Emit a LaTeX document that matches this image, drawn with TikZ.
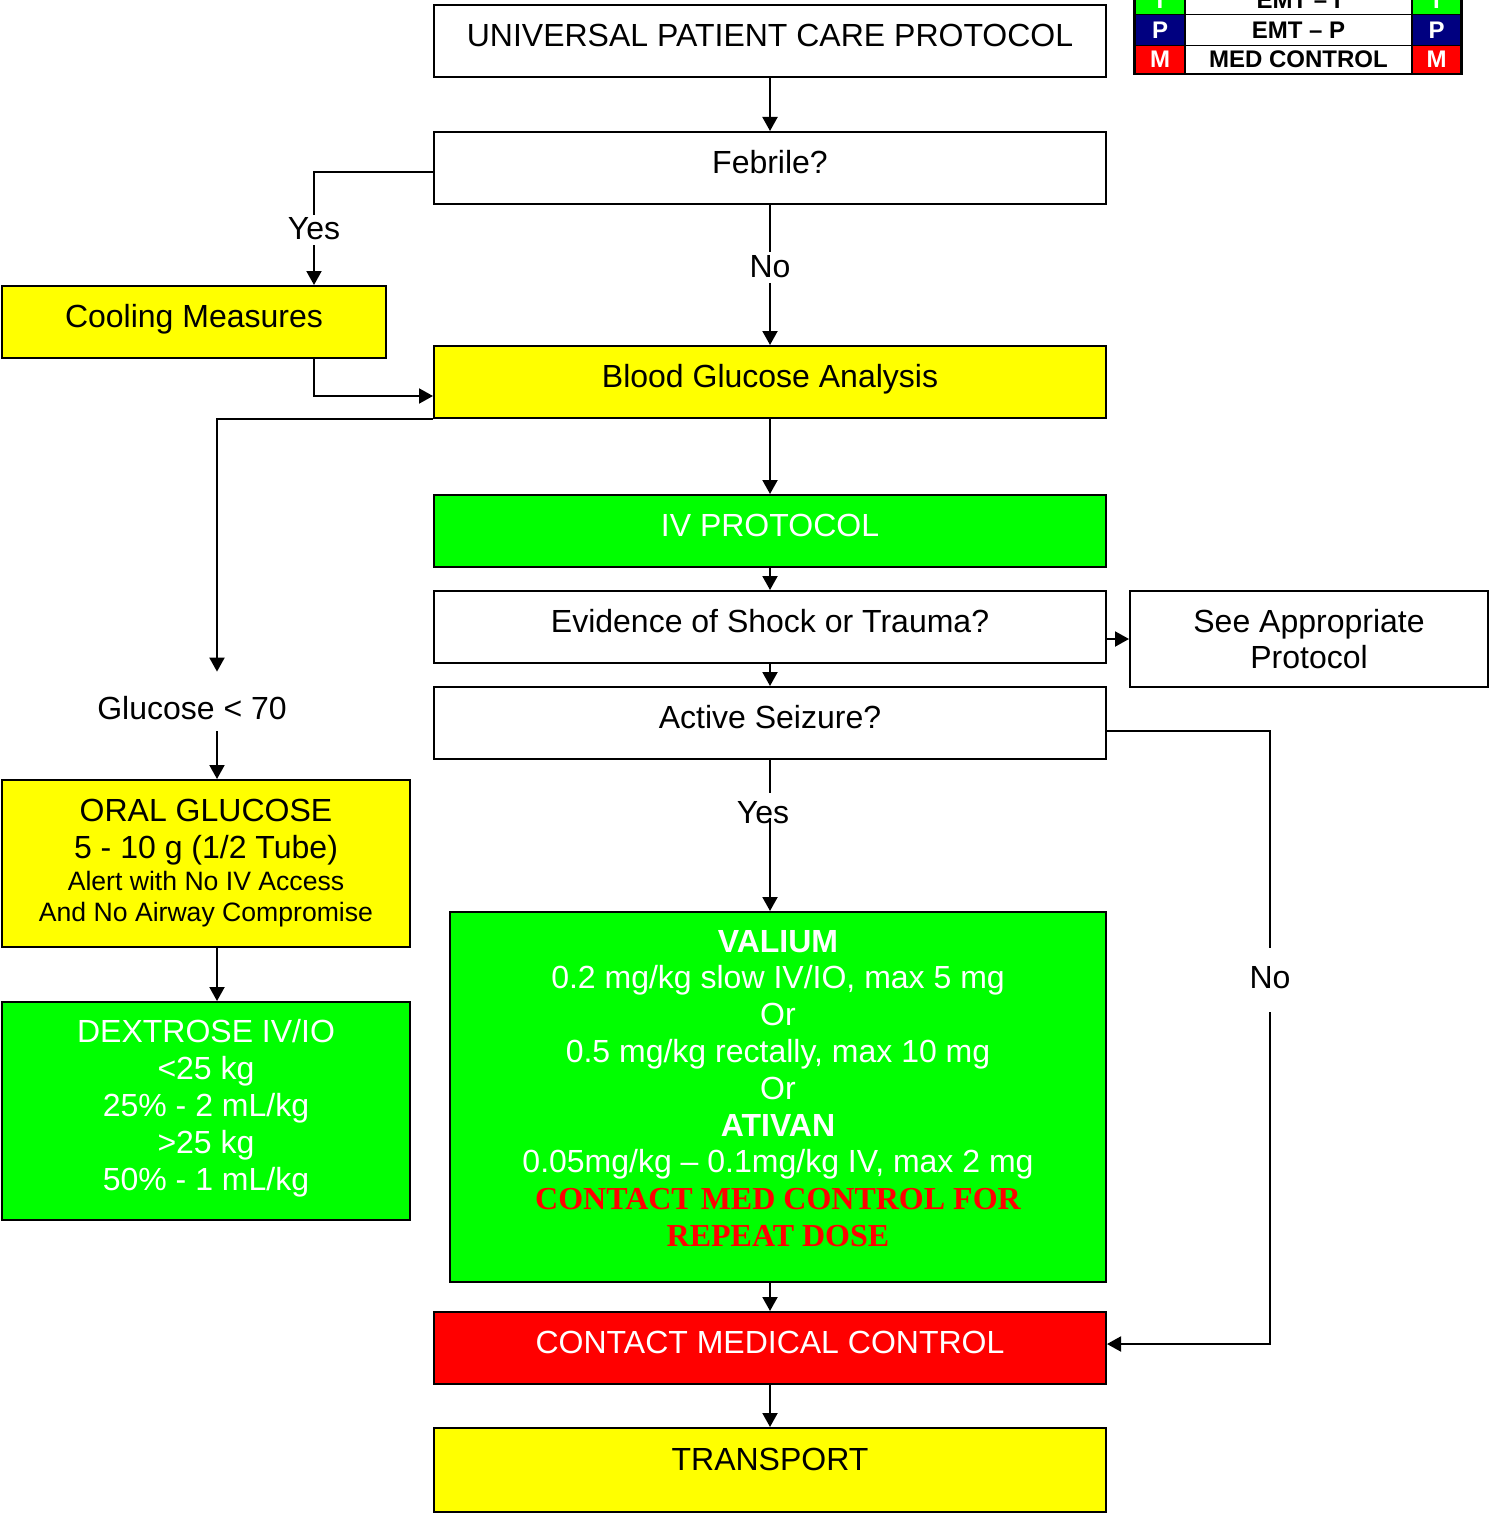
\documentclass[tikz,border=0pt]{standalone}
\usepackage{fontspec}
\setmainfont{Liberation Sans}
\newfontfamily\timesfont{Liberation Serif}
\usetikzlibrary{arrows.meta,calc}

\definecolor{bgreen}{HTML}{00FF00}
\definecolor{byellow}{HTML}{FFFF00}
\definecolor{bred}{HTML}{FF0000}
\definecolor{lgnavy}{HTML}{000080}
\newcommand\redcaps{\timesfont\bfseries\color{bred}}

\begin{document}
\begin{tikzpicture}[x=0.5pt, y=-0.5pt,
  every node/.style={inner sep=0pt},
  box/.style={draw=black, line width=1pt, fill=white,
    minimum width=336pt, minimum height=36pt,
    font=\fontsize{16}{18.5}\selectfont},
  oneline/.style={text height=12pt, text depth=6.5pt},
  multi/.style={align=center},
  conn/.style={line width=1pt},
  arr/.style={conn, -{Triangle[length=7pt,width=7.5pt]}},
  lbl/.style={font=\fontsize{16}{18.5}\selectfont, anchor=base,
    text height=12.5pt, text depth=2.5pt},
  lgc/.style={draw=black, line width=0.75pt,
    font=\bfseries\fontsize{12}{14}\selectfont}
]
\useasboundingbox (0,0) rectangle (1490,1514);
\clip (0,0) rectangle (1490,1514);

% main column
\node[box, oneline] (upc) at (770,41) {UNIVERSAL PATIENT CARE PROTOCOL};
\node[box, oneline] (febrile) at (770,168) {Febrile?};
\node[box, oneline, fill=byellow, minimum width=192pt] (cool) at (194,322) {Cooling Measures};
\node[box, oneline, fill=byellow] (bg) at (770,382) {Blood Glucose Analysis};
\node[box, oneline, fill=bgreen, text=white] (iv) at (770,531) {IV PROTOCOL};
\node[box, oneline] (shock) at (770,627) {Evidence of Shock or Trauma?};
\node[box, multi, minimum width=179pt, minimum height=48pt,
  font=\fontsize{16}{18}\selectfont] (see) at (1309,639) {See Appropriate\\Protocol};
\node[box, oneline] (seizure) at (770,723) {Active Seizure?};

% low glucose branch
\node[box, multi, fill=byellow, minimum width=204pt, minimum height=83.5pt] (oral) at (206,863.5)
  {ORAL GLUCOSE\\5 - 10 g (1/2 Tube)\\[-2.5pt]
   \fontsize{13.3}{15.5}\selectfont Alert with No IV Access\\[-3pt]
   \fontsize{13.3}{15.5}\selectfont And No Airway Compromise};
\node[box, multi, fill=bgreen, text=white, minimum width=204pt, minimum height=109pt] (dex) at (206,1111)
  {DEXTROSE IV/IO\\<25 kg\\25\% - 2 mL/kg\\>25 kg\\50\% - 1 mL/kg\rule[-6.4pt]{0pt}{6.4pt}};

% seizure treatment (extra depth on the last line lifts the block)
\node[box, multi, fill=bgreen, text=white, minimum width=328pt, minimum height=185pt,
  font=\fontsize{16}{18.4}\selectfont] (valium) at (778,1097)
  {\textbf{VALIUM}\\0.2 mg/kg slow IV/IO, max 5 mg\\Or\\0.5 mg/kg rectally, max 10 mg\\Or\\
   \textbf{ATIVAN}\\0.05mg/kg – 0.1mg/kg IV, max 2 mg\\
   \redcaps CONTACT MED CONTROL FOR\\
   \redcaps REPEAT DOSE\rule[-8.8pt]{0pt}{8.8pt}};

\node[box, oneline, fill=bred, text=white] (mc) at (770,1348) {CONTACT MEDICAL CONTROL};
\node[box, fill=byellow, minimum height=42pt, text height=12pt, text depth=12pt] (transport) at (770,1470) {TRANSPORT};

% connector labels
\node[lbl] (yes1) at (314,240) {Yes};
\node[lbl] (no1) at (770,277.5) {No};
\node[lbl, text height=23.75pt, text depth=5.75pt] (glc) at (192,719.5) {Glucose < 70};
\node[lbl, text height=15pt, text depth=0pt] (yes2) at (763,823) {Yes};
\node[lbl, text height=20.25pt, text depth=11.75pt] (no2) at (1270,988.5) {No};

% connectors
\coordinate (lane) at (217,0);
\draw[arr] (upc.south) -- (febrile.north);
\draw[conn] ([yshift=-2pt]febrile.west) -| (yes1.north);
\draw[arr] (yes1.south) -- (yes1.south |- cool.north);
\draw[conn] (febrile.south) -- (no1.north);
\draw[arr] (no1.south) -- (bg.north);
\draw[arr] (yes1.south |- cool.south) |- ([yshift=-7pt]bg.west);
\draw[arr] (bg.south west) -| (lane |- glc.north);
\draw[arr] (lane |- glc.south) -- (lane |- oral.north);
\draw[arr] (lane |- oral.south) -- (lane |- dex.north);
\draw[arr] (bg.south) -- (iv.north);
\draw[arr] (iv.south) -- (shock.north);
\draw[arr] (shock.east |- see.west) -- (see.west);
\draw[arr] (shock.south) -- (seizure.north);
\draw[conn] (seizure.south) -- (seizure.south |- yes2.north);
\draw[arr] ($(seizure.south |- yes2.south)+(0,-5)$) -- (seizure.south |- valium.north);
\draw[conn] ([yshift=-4pt]seizure.east) -| (no2.north);
\draw[arr] (no2.south) |- ([yshift=2pt]mc.east);
\draw[arr] (valium.south -| mc.north) -- (mc.north);
\draw[arr] (mc.south) -- (transport.north);

% certification legend
\begin{scope}[r1/.style={minimum height=15pt}, r2/.style={minimum height=15.5pt}, r3/.style={minimum height=14pt}]
\node[lgc, r1, fill=bgreen, text=white, minimum width=25pt] (l1a) at (1160,0) {I};
\node[lgc, r1, fill=white, minimum width=113.5pt] (l1b) at (1298.5,0) {EMT – I};
\node[lgc, r1, fill=bgreen, text=white, minimum width=24.5pt] (l1c) at (1436.5,0) {I};
\node[lgc, r2, fill=lgnavy, text=white, minimum width=25pt] (l2a) at (1160,30) {P};
\node[lgc, r2, fill=white, minimum width=113.5pt] (l2b) at (1298.5,30) {EMT – P};
\node[lgc, r2, fill=lgnavy, text=white, minimum width=24.5pt] (l2c) at (1436.5,30) {P};
\node[lgc, r3, fill=bred, text=white, minimum width=25pt] (l3a) at (1160,59.5) {M};
\node[lgc, r3, fill=white, minimum width=113.5pt] (l3b) at (1298.5,59.5) {MED CONTROL};
\node[lgc, r3, fill=bred, text=white, minimum width=24.5pt] (l3c) at (1436.5,59.5) {M};
\draw[line width=1.2pt] (l1a.north west) rectangle (l3c.south east);
\end{scope}
\end{tikzpicture}
\end{document}
